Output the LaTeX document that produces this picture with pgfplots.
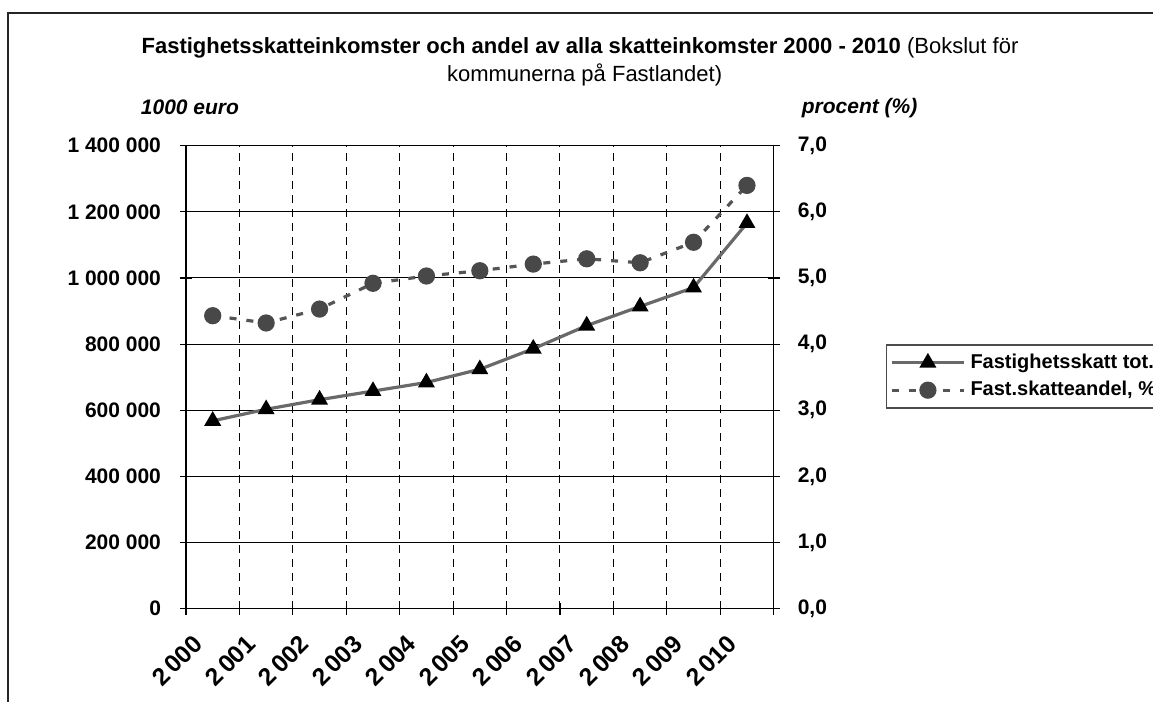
\documentclass[border=0pt]{standalone}
\usepackage{fontspec}
\setmainfont{Liberation Sans}
\usepackage{pgfplots}
\pgfplotsset{compat=1.18}
\definecolor{lineA}{RGB}{105,105,105}
\definecolor{lineB}{RGB}{85,85,85}
\definecolor{dotB}{RGB}{72,72,72}
\newcommand{\yr}[1]{\fontsize{12.3}{14}\selectfont\bfseries #1}
\begin{document}
\begin{tikzpicture}
\useasboundingbox (0,0) rectangle (576.5pt,351pt);
\draw[line width=0.6pt, black!85] (4pt,-2pt) -- (4pt,344.5pt) -- (580pt,344.5pt);
\node[anchor=base, font=\fontsize{11}{13}\selectfont] at (290pt,324.4pt)
  {\textbf{Fastighetsskatteinkomster och andel av alla skatteinkomster 2000 - 2010} (Bokslut för};
\node[anchor=base, font=\fontsize{11}{13}\selectfont] at (292.3pt,310pt)
  {kommunerna på Fastlandet)};
\node[font=\fontsize{10.5}{12}\selectfont\bfseries\itshape] at (95pt,297.5pt) {1000 euro};
\node[font=\fontsize{10.5}{12}\selectfont\bfseries\itshape] at (429.8pt,297pt) {procent (\%)};

\begin{axis}[
  at={(93pt,46.65pt)}, anchor=south west,
  scale only axis, width=293.85pt, height=231.5pt,
  xmin=-0.5, xmax=10.5, ymin=0, ymax=1400000,
  axis x line*=bottom, axis y line*=left,
  axis line style={-, line width=0.6pt, black},
  clip=false,
  xtick={0,...,10},
  xticklabels={\yr{2\,000},\yr{2\,001},\yr{2\,002},\yr{2\,003},\yr{2\,004},\yr{2\,005},\yr{2\,006},\yr{2\,007},\yr{2\,008},\yr{2\,009},\yr{2\,010}},
  minor xtick={-0.5,0.5,...,10.5},
  xminorgrids,
  minor x grid style={black, line width=0.5pt, dash pattern=on 4pt off 3pt},
  ytick={0,200000,...,1400000},
  yticklabels={0,200 000,400 000,600 000,800 000,1 000 000,1 200 000,1 400 000},
  scaled y ticks=false,
  ymajorgrids,
  major grid style={black, line width=0.5pt},
  tick align=center, major tick length=6pt, minor tick length=6pt,
  major x tick style={draw=none},
  tick style={black, line width=0.6pt},
  yticklabel style={font=\fontsize{10.5}{12}\selectfont\bfseries, xshift=-6pt},
  xticklabel style={xshift=-5pt, yshift=-10pt, rotate=45, anchor=east},
]
\addplot[line width=1.6pt, color=lineA, mark=triangle*, mark size=3.3pt,
  mark options={solid, fill=black, draw=black}]
  coordinates {(0,568000) (1,603000) (2,632000) (3,658000) (4,684000) (5,724000)
               (6,786000) (7,856000) (8,914000) (9,971000) (10,1166000)};
\end{axis}

\begin{axis}[
  at={(93pt,46.65pt)}, anchor=south west,
  scale only axis, width=293.85pt, height=231.5pt,
  xmin=-0.5, xmax=10.5, ymin=0, ymax=7,
  axis x line=none, axis y line*=right,
  axis line style={-, line width=0.6pt, black},
  clip=false,
  ytick={0,1,...,7},
  yticklabels={{0,0},{1,0},{2,0},{3,0},{4,0},{5,0},{6,0},{7,0}},
  tick align=center, major tick length=6pt,
  tick style={black, line width=0.6pt},
  yticklabel style={font=\fontsize{10.5}{12}\selectfont\bfseries, xshift=5.5pt},
  legend style={at={(1.1906,0.571)}, anchor=north west, draw=black!70, line width=0.6pt,
    font=\fontsize{10}{12}\selectfont\bfseries, row sep=0pt, inner sep=2pt,
    nodes={inner sep=2.5pt}},
  legend cell align=left,
  legend image code/.code={\draw[mark repeat=2,mark phase=2,#1] plot coordinates {(0pt,0pt) (18pt,0pt) (36pt,0pt)};},
]
\addlegendimage{line width=1.6pt, color=lineA, mark=triangle*, mark size=3.3pt,
  mark options={solid, fill=black, draw=black}}
\addlegendentry{Fastighetsskatt tot.}
\addplot[line width=1.6pt, color=lineB, dash pattern=on 3.5pt off 5pt, mark=*, mark size=3.5pt,
  mark options={solid, fill=dotB, draw=dotB}]
  coordinates {(0,4.43) (1,4.32) (2,4.53) (3,4.92) (4,5.03) (5,5.11)
               (6,5.21) (7,5.29) (8,5.23) (9,5.54) (10,6.40)};
\addlegendentry{Fast.skatteandel, \%}
\end{axis}
\end{tikzpicture}
\end{document}
